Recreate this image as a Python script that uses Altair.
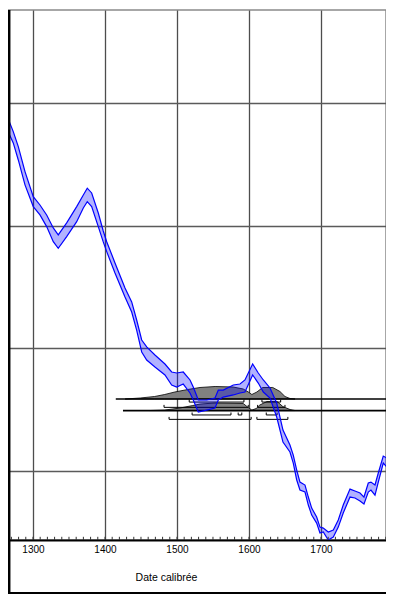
import altair as alt
import pandas as pd

# ---- calibration curve (calendar year AD, radiocarbon age BP: upper / lower edge)
curve_year = [1264.3, 1272.6, 1279.6, 1288.9, 1300.4, 1309.7, 1319.0, 1328.2, 1335.1, 1346.8,
              1360.7, 1369.9, 1375.4, 1381.5, 1390.7, 1397.6, 1402.4, 1413.9, 1427.8, 1437.1,
              1444.0, 1451.0, 1457.9, 1469.4, 1483.3, 1492.6, 1499.6, 1508.7, 1518.1, 1522.6,
              1529.6, 1541.3, 1552.8, 1557.4, 1564.3, 1578.2, 1587.5, 1594.4, 1605.1, 1612.9,
              1619.9, 1629.2, 1638.5, 1647.2, 1656.9, 1661.5, 1666.3, 1670.8, 1677.8, 1682.4,
              1687.1, 1694.0, 1698.6, 1703.2, 1710.1, 1717.1, 1724.0, 1730.9, 1740.3, 1747.2,
              1754.2, 1759.7, 1765.7, 1769.4, 1775.0, 1779.6, 1786.5, 1791.3, 1795.8, 1800.4,
              1806.0]
curve_hi = [488.8, 476.6, 464.4, 444.0, 423.6, 416.8, 408.7, 398.1, 392.4, 402.2,
            415.5, 425.0, 430.5, 426.6, 410.3, 395.6, 386.9, 369.6, 349.2, 337.8,
            323.1, 306.8, 301.1, 294.6, 287.2, 280.7, 279.9, 280.7, 274.2, 268.5,
            257.9, 257.9, 259.5, 266.0, 266.0, 270.1, 270.9, 274.2, 287.2, 279.9,
            274.2, 267.7, 255.4, 233.4, 221.2, 213.0, 200.8, 191.0, 188.6, 178.8,
            169.8, 162.5, 154.3, 153.5, 150.3, 151.9, 160.1, 172.3, 185.3, 183.7,
            182.1, 178.8, 190.2, 191.0, 188.6, 198.4, 212.2, 210.6, 200.8, 184.5,
            172.0]
curve_lo = [478.0, 467.4, 453.5, 433.2, 415.5, 408.7, 399.2, 386.9, 381.5, 391.0,
            403.2, 414.4, 419.5, 415.5, 399.2, 386.7, 378.8, 361.4, 341.8, 329.6,
            314.9, 297.0, 290.5, 284.8, 278.3, 270.1, 268.5, 270.9, 263.6, 257.9,
            248.1, 249.7, 251.4, 257.9, 260.3, 262.0, 263.6, 264.4, 278.3, 271.7,
            264.4, 259.5, 244.0, 223.6, 215.5, 206.5, 192.7, 184.5, 182.9, 172.3,
            164.1, 157.6, 149.5, 150.3, 143.8, 146.2, 154.3, 165.8, 178.8, 178.0,
            175.5, 173.1, 182.9, 184.5, 180.4, 191.0, 206.5, 203.3, 192.7, 176.4,
            164.0]

# ---- calibrated probability distributions (relative probability)
dist1_year = [1428, 1449, 1469, 1483, 1497, 1515, 1532, 1553, 1578, 1592,
              1599, 1604, 1611, 1619, 1633, 1643, 1650, 1657, 1664]
dist1_prob = [0.0, 0.08, 0.2, 0.36, 0.56, 0.76, 0.92, 1.0, 0.96, 0.8,
              0.56, 0.36, 0.56, 0.92, 0.92, 0.6, 0.2, 0.04, 0.0]
dist2_year = [1462, 1483, 1504, 1522, 1532, 1553, 1592, 1599, 1604, 1610,
              1615, 1625, 1639, 1647, 1657, 1664]
dist2_prob = [0.0, 0.04, 0.2, 0.4, 0.52, 0.6, 0.56, 0.24, 0.04, 0.16,
              0.44, 0.72, 0.72, 0.32, 0.08, 0.0]
dist_base = [258.7, 249.3]          # BP level of each distribution's baseline
dist_start = [1415, 1425]           # where each baseline begins
DENS_SCALE = 10.2                   # BP units for probability 1

# ---- ranges (68.2 % and 95.4 %) under each distribution
range_levels = [256.2, 251.9, 245.7, 242.1]
range_segments = [
    [(1517, 1593), (1618, 1644)],
    [(1482, 1599), (1612, 1650)],
    [(1521, 1575), (1585, 1590), (1624, 1639)],
    [(1489, 1603), (1611, 1654)],
]
RANGE_TICK = 2.0

x_ticks = [1300, 1400, 1500, 1600, 1700, 1800]
y_grid = [200, 300, 400, 500]
minor_ticks = list(range(1270, 1791, 10))

W, H = 378, 530
X_DOMAIN = [1265.3, 1265.3 + W * 1.38889]
Y_DOMAIN = [143.8, 575.7]
PAD_TOP, PAD_BOTTOM = 2, 54
FONT = "Liberation Sans"

# ---- tables
curve = pd.DataFrame({"year": curve_year, "y": curve_hi, "y2": curve_lo})
edges = pd.concat([
    pd.DataFrame({"year": curve_year, "y": curve_hi, "edge": "hi"}),
    pd.DataFrame({"year": curve_year, "y": curve_lo, "edge": "lo"}),
])

dens_rows = []
for name, yrs, probs, base in [("d1", dist1_year, dist1_prob, dist_base[0]),
                               ("d2", dist2_year, dist2_prob, dist_base[1])]:
    for yr, p in zip(yrs, probs):
        dens_rows.append({"year": yr, "y": base + p * DENS_SCALE, "y2": base, "row": name})
dens = pd.DataFrame(dens_rows)

baselines = pd.DataFrame({"year": dist_start, "year2": [1815, 1815], "y": dist_base})

br_rows = []
for k, (lvl, segs) in enumerate(zip(range_levels, range_segments)):
    for j, (a, b) in enumerate(segs):
        seg = f"{k}-{j}"
        for i, (xx, yy) in enumerate([(a, lvl + RANGE_TICK), (a, lvl), (b, lvl), (b, lvl + RANGE_TICK)]):
            br_rows.append({"year": xx, "y": yy, "seg": seg, "i": i})
brackets = pd.DataFrame(br_rows)

minor = pd.DataFrame({"year": minor_ticks, "y": Y_DOMAIN[0], "y2": Y_DOMAIN[0] + 2.6})

# ---- encodings
xscale = alt.Scale(domain=X_DOMAIN, nice=False, zero=False)
yscale = alt.Scale(domain=Y_DOMAIN, nice=False, zero=False)
xaxis = alt.Axis(values=x_ticks, format="d", grid=True, gridColor="#4d4d4d", gridWidth=1.3,
                 ticks=False, domainColor="black", domainWidth=2,
                 labelFont=FONT, labelFontSize=10, labelColor="black", labelPadding=4,
                 labelFlush=False, labelOverlap=False,
                 title="Date calibrée", titleFont=FONT, titleFontSize=10.5,
                 titleFontWeight="normal", titleColor="black",
                 titleX=158, titleY=37, titleAlign="center", titleBaseline="middle")
yaxis = alt.Axis(values=y_grid, grid=True, gridColor="#5a5a5a", gridWidth=1.3,
                 labels=False, ticks=False, domain=False, title=None)

X = alt.X("year:Q", scale=xscale, axis=xaxis)
Y = alt.Y("y:Q", scale=yscale, axis=yaxis)

dens_layer = alt.Chart(dens).mark_area(color="#808080", stroke="black", strokeWidth=0.8,
                                       opacity=1).encode(x=X, y=Y, y2="y2:Q", detail="row:N")

base_layer = alt.Chart(baselines).mark_rule(color="black", strokeWidth=1.7).encode(
    x=X, x2="year2:Q", y=Y)

br_layer = alt.Chart(brackets).mark_line(color="black", strokeWidth=1).encode(
    x=X, y=Y, detail="seg:N", order="i:Q")

band_layer = alt.Chart(curve).mark_area(color="#0000ff", opacity=0.3, clip=True).encode(
    x=X, y=Y, y2="y2:Q")

edge_layer = alt.Chart(edges).mark_line(color="#0000ff", strokeWidth=1.2, clip=True).encode(
    x=X, y=Y, detail="edge:N")

minor_layer = alt.Chart(minor).mark_rule(color="#333333", strokeWidth=1).encode(
    x=X, y=Y, y2="y2:Q")

frame = pd.DataFrame({"k": [0]})
left_line = alt.Chart(frame).mark_rule(color="black", strokeWidth=2.5).encode(
    x=alt.value(1.2), y=alt.value(0), y2=alt.value(H + PAD_BOTTOM))
bottom_line = alt.Chart(frame).mark_rule(color="black", strokeWidth=2).encode(
    x=alt.value(0), x2=alt.value(W), y=alt.value(H + PAD_BOTTOM - 1))

chart = alt.layer(
    dens_layer, base_layer, br_layer, band_layer, edge_layer, minor_layer,
    left_line, bottom_line
).properties(
    width=W, height=H,
    autosize=alt.AutoSizeParams(type="none"),
    padding={"left": 0, "top": PAD_TOP, "right": 0, "bottom": PAD_BOTTOM},
    background="white",
).configure_view(stroke="#8a8a8a", strokeWidth=1.5)

chart.save("out.html", embed_options={"renderer": "svg", "actions": False})
